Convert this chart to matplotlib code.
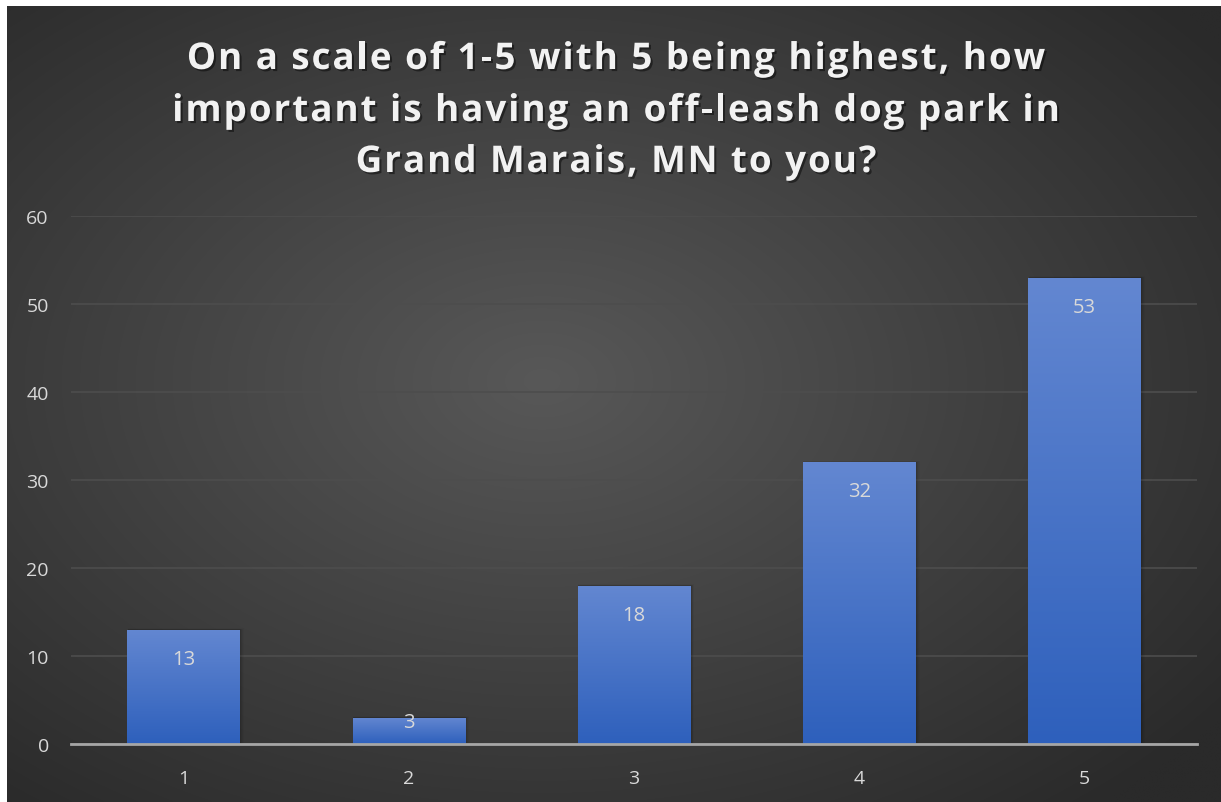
import numpy as np
import matplotlib
matplotlib.use("Agg")
import matplotlib.pyplot as plt
from matplotlib.patches import Rectangle
from matplotlib.text import Text
import matplotlib.patheffects as pe

categories = ["1", "2", "3", "4", "5"]
values = [13, 3, 18, 32, 53]
yticks = [0, 10, 20, 30, 40, 50, 60]
title_lines = ["On a scale of 1-5 with 5 being highest, how",
               "important is having an off-leash dog park in",
               "Grand Marais, MN to you?"]

W, H = 1221, 803
fig = plt.figure(figsize=(W / 100, H / 100), dpi=100, facecolor="white")

# background with radial gradient
bg = fig.add_axes([7 / W, 0, 1 - 7 / W, 1 - 7 / H])
bg.set_axis_off()
ny, nx = 400, 600
yy, xx = np.mgrid[0:ny, 0:nx]
cx, cy = nx * 0.44, ny * 0.47
r = np.sqrt(((xx - cx) / nx) ** 2 + ((yy - cy) / ny) ** 2)
r = np.clip(r / 0.7, 0, 1)
c_center = np.array([0x58, 0x58, 0x58]) / 255
c_edge = np.array([0x2a, 0x2a, 0x2a]) / 255
img = c_center[None, None, :] * (1 - r[..., None]) + c_edge[None, None, :] * r[..., None]
bg.imshow(img, aspect="auto", extent=[0, 1, 0, 1], interpolation="bilinear")
bg.set_xlim(0, 1)
bg.set_ylim(0, 1)

ax = fig.add_axes([71 / W, 58 / H, (1197 - 71) / W, (745 - 217) / H])
ax.patch.set_alpha(0)
x = np.arange(len(categories))
ax.set_xlim(-0.5, len(categories) - 0.5)
ax.set_ylim(0, 60)

# gradient for bars
grad = np.linspace(0, 1, 256)[:, None]
top = np.array([0x63, 0x87, 0xd1]) / 255
bot = np.array([0x2e, 0x60, 0xbc]) / 255
gimg = top[None, None, :] * (1 - grad[..., None]) + bot[None, None, :] * grad[..., None]

width = 0.5
bars = ax.bar(x, values, width=width, color="none", zorder=3)
for b, v in zip(bars, values):
    x0 = b.get_x()
    for k, a in enumerate([0.08, 0.06, 0.04, 0.03]):
        d = 0.004 * (k + 1)
        sh = Rectangle((x0 + 0.002, 0), width + d, v + d * 9, facecolor="black",
                       alpha=a, zorder=2, linewidth=0)
        ax.add_patch(sh)
    im = ax.imshow(gimg, extent=[x0, x0 + width, 0, v], aspect="auto", zorder=3,
                   interpolation="bilinear")
    im.set_clip_path(b)
    ly = v - 3.3 if v > 6 else v - 0.45
    ax.text(b.get_x() + width / 2, ly, str(v), ha="center", va="center",
            color="#d9d9d9", fontsize=14.5, family="Open Sans", zorder=5)

ax.set_yticks(yticks)
ax.set_xticks(x)
ax.set_xticklabels(categories)
ax.grid(axis="y", color="#4d4d4d", linewidth=1.2, zorder=0)
ax.set_axisbelow(True)
for s in ["top", "right", "left"]:
    ax.spines[s].set_visible(False)
ax.spines["bottom"].set_color("#a6a6a6")
ax.spines["bottom"].set_linewidth(2)
ax.spines["bottom"].set_zorder(4)
ax.tick_params(length=0, colors="#d9d9d9", labelsize=14)
for lbl in ax.get_xticklabels() + ax.get_yticklabels():
    lbl.set_family("Open Sans")
ax.tick_params(axis="y", pad=16)
ax.tick_params(axis="x", pad=18)

# title with letter spacing, drawn char by char
fig.canvas.draw()
renderer = fig.canvas.get_renderer()
fs = 26.5
spacing = 2.0  # px
baselines = [70, 122, 173]
center_x = 616
shadow = [pe.withSimplePatchShadow(offset=(1.5, -1.5), shadow_rgbFace="black", alpha=0.45)]
for line, base in zip(title_lines, baselines):
    widths = []
    for ch in line:
        if ch == " ":
            t = Text(0, 0, "n n", fontsize=fs, fontweight="bold", family="Open Sans", figure=fig)
            t2 = Text(0, 0, "nn", fontsize=fs, fontweight="bold", family="Open Sans", figure=fig)
            wv = t.get_window_extent(renderer).width - t2.get_window_extent(renderer).width
        else:
            t = Text(0, 0, ch, fontsize=fs, fontweight="bold", family="Open Sans", figure=fig)
            wv = t.get_window_extent(renderer).width
        widths.append(wv)
    total = sum(widths) + spacing * (len(line) - 1)
    xpos = center_x - total / 2
    for ch, wv in zip(line, widths):
        if ch != " ":
            fig.text(xpos / W, 1 - base / H, ch, ha="left", va="baseline", color="#f2f2f2",
                     fontsize=fs, fontweight="bold", family="Open Sans", path_effects=shadow)
        xpos += wv + spacing

fig.savefig("out.png", dpi=100, facecolor="white")
